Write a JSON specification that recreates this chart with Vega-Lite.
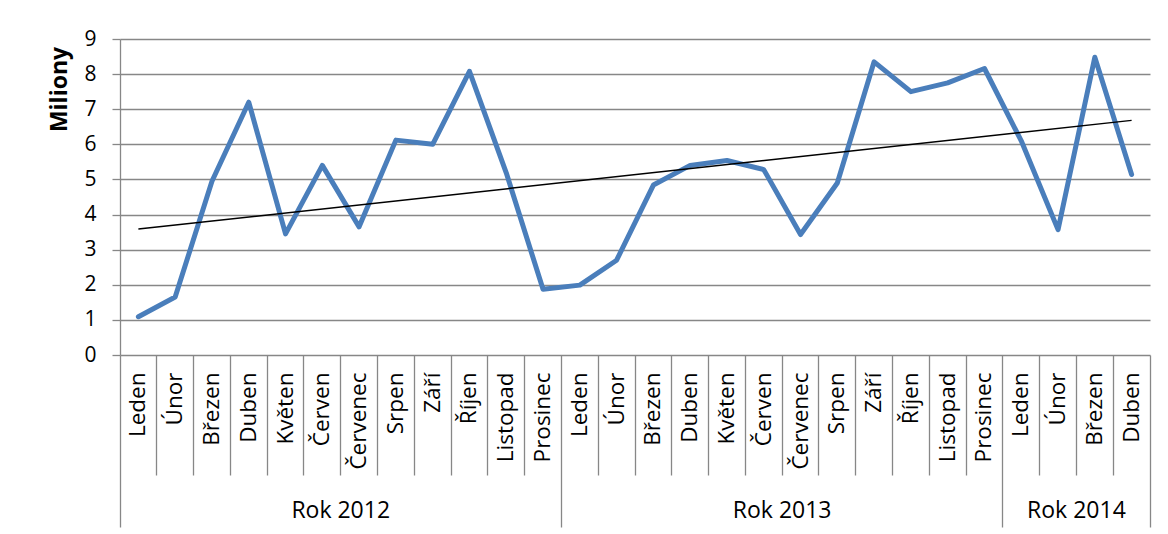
{
  "$schema": "https://vega.github.io/schema/vega-lite/v6.json",
  "width": 1030,
  "height": 316,
  "autosize": {"type": "none"},
  "padding": {"left": 120, "top": 39, "right": 18, "bottom": 179},
  "background": "white",
  "config": {
    "view": {"stroke": null},
    "font": "Open Sans",
    "axis": {"labelFont": "Open Sans", "titleFont": "Open Sans", "labelColor": "black", "titleColor": "black"}
  },
  "datasets": {
    "main": [
      {"i": 1, "key": "Leden 2012", "v": 1.09},
      {"i": 2, "key": "Únor 2012", "v": 1.65},
      {"i": 3, "key": "Březen 2012", "v": 4.95},
      {"i": 4, "key": "Duben 2012", "v": 7.2},
      {"i": 5, "key": "Květen 2012", "v": 3.45},
      {"i": 6, "key": "Červen 2012", "v": 5.4},
      {"i": 7, "key": "Červenec 2012", "v": 3.65},
      {"i": 8, "key": "Srpen 2012", "v": 6.12},
      {"i": 9, "key": "Září 2012", "v": 6.0},
      {"i": 10, "key": "Říjen 2012", "v": 8.08},
      {"i": 11, "key": "Listopad 2012", "v": 5.19},
      {"i": 12, "key": "Prosinec 2012", "v": 1.87},
      {"i": 13, "key": "Leden 2013", "v": 1.99},
      {"i": 14, "key": "Únor 2013", "v": 2.7},
      {"i": 15, "key": "Březen 2013", "v": 4.84},
      {"i": 16, "key": "Duben 2013", "v": 5.4},
      {"i": 17, "key": "Květen 2013", "v": 5.54},
      {"i": 18, "key": "Červen 2013", "v": 5.28},
      {"i": 19, "key": "Červenec 2013", "v": 3.43},
      {"i": 20, "key": "Srpen 2013", "v": 4.9},
      {"i": 21, "key": "Září 2013", "v": 8.35},
      {"i": 22, "key": "Říjen 2013", "v": 7.5},
      {"i": 23, "key": "Listopad 2013", "v": 7.75},
      {"i": 24, "key": "Prosinec 2013", "v": 8.16},
      {"i": 25, "key": "Leden 2014", "v": 6.1},
      {"i": 26, "key": "Únor 2014", "v": 3.57},
      {"i": 27, "key": "Březen 2014", "v": 8.48},
      {"i": 28, "key": "Duben 2014", "v": 5.14}
    ]
  },
  "data": {"name": "main"},
  "encoding": {
    "y": {
      "field": "v",
      "type": "quantitative",
      "scale": {"domain": [0, 9], "nice": false, "zero": true},
      "axis": {
        "title": "Miliony",
        "titleFontSize": 23,
        "titleFontWeight": "bold",
        "titlePadding": 12,
        "titleY": 50,
        "titleAnchor": "middle",
        "values": [0, 1, 2, 3, 4, 5, 6, 7, 8, 9],
        "labelFontSize": 21,
        "labelPadding": 16,
        "tickSize": 8,
        "tickColor": "#878787",
        "tickWidth": 1.3,
        "domainColor": "#878787",
        "domainWidth": 1.3,
        "gridColor": "#878787",
        "gridWidth": 1.3
      }
    }
  },
  "layer": [
    {
      "mark": {"type": "line", "color": "#4a7ebb", "strokeWidth": 5, "strokeJoin": "round", "strokeCap": "round"},
      "encoding": {
        "x": {
          "field": "key",
          "type": "ordinal",
          "sort": null,
          "scale": {
            "type": "band",
            "paddingInner": 0,
            "paddingOuter": 0,
            "domain": ["Leden 2012", "Únor 2012", "Březen 2012", "Duben 2012", "Květen 2012", "Červen 2012", "Červenec 2012", "Srpen 2012", "Září 2012", "Říjen 2012", "Listopad 2012", "Prosinec 2012", "Leden 2013", "Únor 2013", "Březen 2013", "Duben 2013", "Květen 2013", "Červen 2013", "Červenec 2013", "Srpen 2013", "Září 2013", "Říjen 2013", "Listopad 2013", "Prosinec 2013", "Leden 2014", "Únor 2014", "Březen 2014", "Duben 2014"]
          },
          "axis": {
            "orient": "bottom",
            "title": null,
            "labelAngle": 270,
            "labelFontSize": 22.5,
            "labelPadding": 17,
            "ticks": false,
            "domain": false,
            "grid": false,
            "labelOverlap": false,
            "labelExpr": "split(datum.value, ' ')[0]"
          }
        }
      }
    },
    {
      "transform": [
        {"regression": "v", "on": "i"},
        {"lookup": "i", "from": {"data": {"name": "main"}, "key": "i", "fields": ["key"]}}
      ],
      "mark": {"type": "line", "color": "black", "strokeWidth": 1.5},
      "encoding": {
        "x": {
          "field": "key",
          "type": "ordinal",
          "sort": null,
          "axis": {
            "orient": "bottom",
            "title": null,
            "labels": false,
            "domain": false,
            "grid": false,
            "bandPosition": 0,
            "tickColor": "#878787",
            "tickWidth": 1.3,
            "tickSize": {"condition": {"test": "indexof(datum.value, 'Leden') === 0", "value": 172}, "value": 120}
          }
        }
      }
    },
    {
      "mark": {"type": "line", "opacity": 0},
      "encoding": {
        "x": {
          "field": "key",
          "type": "ordinal",
          "sort": null,
          "axis": {
            "orient": "bottom",
            "title": null,
            "domain": false,
            "grid": false,
            "bandPosition": 1,
            "values": ["Červen 2012", "Červen 2013", "Únor 2014", "Duben 2014"],
            "tickColor": "#878787",
            "tickWidth": 1.3,
            "tickSize": {"condition": {"test": "datum.value === 'Duben 2014'", "value": 172}, "value": 0},
            "labelExpr": "datum.value === 'Duben 2014' ? '' : 'Rok ' + split(datum.value, ' ')[1]",
            "labelAngle": 0,
            "labelAlign": "center",
            "labelOffset": 18.4,
            "labelFontSize": 23,
            "labelPadding": 155,
            "labelBaseline": "middle",
            "labelOverlap": false
          }
        }
      }
    }
  ],
  "resolve": {"axis": {"x": "independent"}}
}
